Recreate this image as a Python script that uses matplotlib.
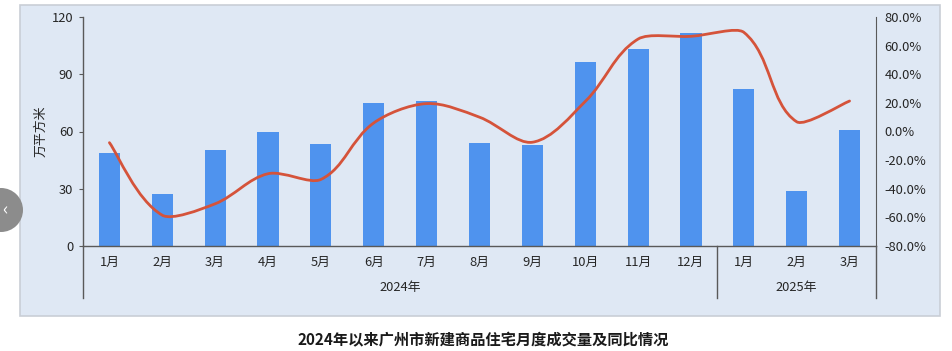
import numpy as np
import matplotlib
matplotlib.use("Agg")
import matplotlib.pyplot as plt
from matplotlib.path import Path
from matplotlib.patches import PathPatch, Rectangle, Ellipse

plt.rcParams['font.family'] = ['Noto Sans CJK SC', 'DejaVu Sans']

# data
months = ["1月", "2月", "3月", "4月", "5月", "6月", "7月", "8月", "9月", "10月", "11月", "12月", "1月", "2月", "3月"]
years = ["2024年", "2025年"]
year_counts = [12, 3]
area = [48.7, 27.1, 50.3, 59.9, 53.5, 74.8, 76.0, 54.0, 53.0, 96.6, 103.2, 111.6, 82.3, 29.0, 60.8]
yoy = [-7.8, -58.5, -50.5, -29.5, -33.5, 6.0, 19.5, 10.0, -7.5, 21.0, 64.6, 66.5, 69.3, 6.8, 21.3]
title = "2024年以来广州市新建商品住宅月度成交量及同比情况"

bg = "#dfe8f4"
bar_c = "#4f93ee"
line_c = "#d5533a"
axis_c = "#595959"
txt_c = "#262626"
fs = 9.3

W, H = 952, 351
fig = plt.figure(figsize=(W / 100, H / 100), dpi=100)
fig.patch.set_facecolor("white")
fig.patches.append(Rectangle((20/W, 1-316/H), 920/W, 311/H, transform=fig.transFigure,
                             facecolor=bg, edgecolor="#c9ced6", linewidth=1.2, zorder=-2))
fig.patches.append(Ellipse((1/W, 1-210/H), 44/W, 44/H, transform=fig.transFigure,
                           facecolor="#8c8c8c", edgecolor="none", zorder=-1))
fig.text(5/W, 1-210/H, "‹", color="white", fontsize=13, ha="center", va="center", zorder=-1)

ax = fig.add_axes([83/W, 1-246/H, 793/W, 229/H])
ax.patch.set_alpha(0)
x = np.arange(len(months))
ax.bar(x, area, width=0.4, color=bar_c, zorder=2)
ax.set_xlim(-0.5, len(months) - 0.5)
ax.set_ylim(0, 120)
ax.set_yticks([0, 30, 60, 90, 120])
ax.set_xticks(x)
ax.set_xticklabels(months)
ax.tick_params(axis="x", length=0, pad=7, labelsize=fs, colors=txt_c)
ax.tick_params(axis="y", length=3, width=0.8, color=axis_c, labelsize=fs, labelcolor=txt_c, pad=4)
ax.set_ylabel("万平方米", fontsize=fs, color=txt_c, labelpad=3)
for s in ["top", "right"]:
    ax.spines[s].set_visible(False)
for s in ["left", "bottom"]:
    ax.spines[s].set_color(axis_c)
    ax.spines[s].set_linewidth(1)

# category group separators and year labels
tr = ax.get_xaxis_transform()
edges = np.concatenate([[0], np.cumsum(year_counts)]) - 0.5
for e in edges:
    ax.plot([e, e], [0, -0.227], color=axis_c, lw=1, transform=tr, clip_on=False)
for i, yname in enumerate(years):
    ax.text((edges[i] + edges[i + 1]) / 2, -0.18, yname, transform=tr, ha="center", va="center",
            fontsize=fs, color=txt_c)

ax2 = ax.twinx()
ax2.set_ylim(-80, 80)
ax2.set_yticks(np.arange(-80, 81, 20))
ax2.set_yticklabels([f"{v:.1f}%" for v in np.arange(-80, 81, 20)])
ax2.tick_params(axis="y", length=0, labelsize=fs, labelcolor=txt_c, pad=6)
for s in ["top", "left", "bottom"]:
    ax2.spines[s].set_visible(False)
ax2.spines["right"].set_color(axis_c)

# smoothed line: bezier, control arms weighted by segment length (screen space)
td = ax2.transData
pts = td.transform(np.column_stack([x, yoy]).astype(float))
n = len(pts)

def arms(i):
    if i == 0:
        return None, (pts[1] - pts[0]) / 6
    if i == n - 1:
        return (pts[i - 1] - pts[i]) / 6, None
    d0 = np.linalg.norm(pts[i] - pts[i - 1]) ** 2
    d1 = np.linalg.norm(pts[i + 1] - pts[i]) ** 2
    tang = pts[i + 1] - pts[i - 1]
    return -tang / 3 * d0 / (d0 + d1), tang / 3 * d1 / (d0 + d1)

verts = [pts[0]]
codes = [Path.MOVETO]
for i in range(n - 1):
    a = arms(i)[1]
    b = arms(i + 1)[0]
    verts += [pts[i] + a, pts[i + 1] + b, pts[i + 1]]
    codes += [Path.CURVE4] * 3
verts = td.inverted().transform(np.array(verts))
ax2.add_patch(PathPatch(Path(verts, codes), facecolor="none", edgecolor=line_c, lw=2.0,
                        capstyle="round", zorder=3))

fig.text(483/W, 1-340/H, title, ha="center", va="center", fontsize=11, fontweight="bold", color="#1a1a1a")

fig.savefig("out.png", dpi=100)
